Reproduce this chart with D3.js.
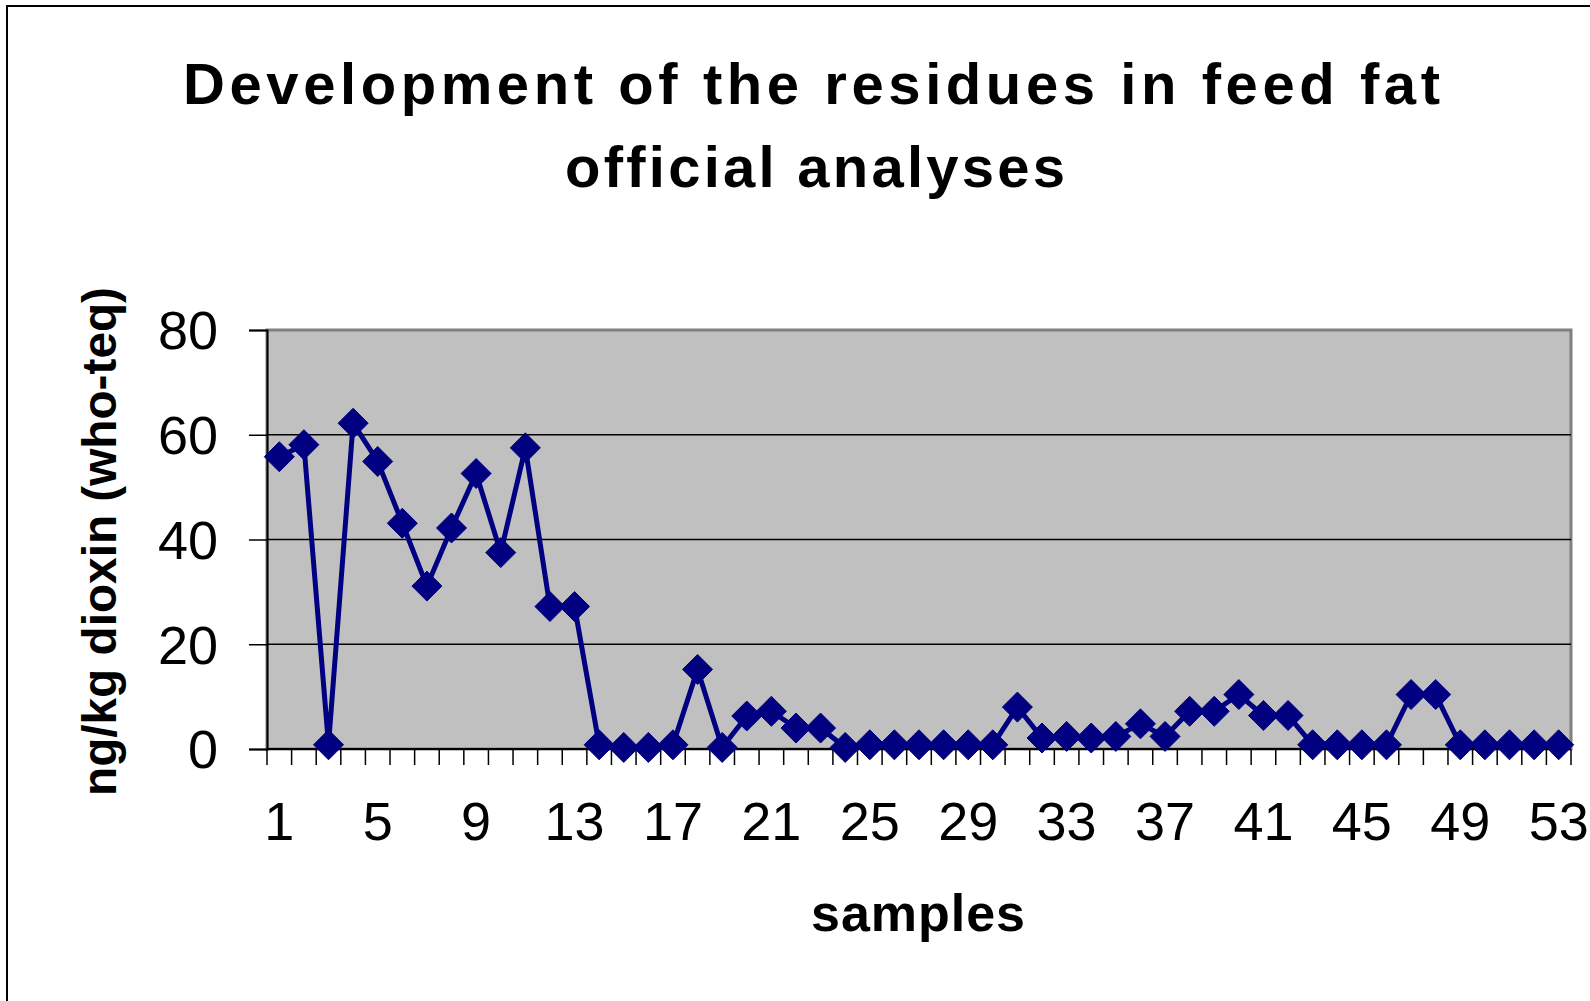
<!DOCTYPE html>
<html>
<head>
<meta charset="utf-8">
<script src="https://cdn.jsdelivr.net/npm/d3@7"></script>
<style>
    body {margin: 0; background: white;}
    svg {display: block;}
    text {font-family: "Liberation Sans", Arial, sans-serif; fill: black;}
</style>
</head>
<body>
<div id="chart"></div>
<script>
var samples = [1, 2, 3, 4, 5, 6, 7, 8, 9, 10, 11, 12, 13, 14, 15, 16, 17, 18,
    19, 20, 21, 22, 23, 24, 25, 26, 27, 28, 29, 30, 31, 32, 33, 34, 35, 36,
    37, 38, 39, 40, 41, 42, 43, 44, 45, 46, 47, 48, 49, 50, 51, 52, 53];
var dioxin = [55.8, 58.1, 0.8, 62.2, 54.9, 43.1, 31.1, 42.2, 52.6, 37.5, 57.5,
    27.2, 27.2, 0.8, 0.3, 0.3, 0.8, 15.2, 0.3, 6.3, 7.2, 4.0, 4.0, 0.3, 0.8,
    0.8, 0.8, 0.8, 0.8, 0.8, 8.0, 2.1, 2.4, 2.1, 2.4, 4.8, 2.4, 7.2, 7.2, 10.4,
    6.4, 6.4, 0.8, 0.8, 0.8, 0.8, 10.4, 10.4, 0.8, 0.8, 0.8, 0.8, 0.8];
var xTickLabels = [1, 5, 9, 13, 17, 21, 25, 29, 33, 37, 41, 45, 49, 53];
var yTicks = [0, 20, 40, 60, 80];
var titleLines = ['Development of the residues in feed fat', 'official analyses'];

var width = 1590, height = 1001;
var plot = {left: 267, right: 1571, top: 330, bottom: 749};

var svg = d3.select('#chart').append('svg')
    .attr('width', width)
    .attr('height', height);

// outer chart frame (right/bottom edges fall outside the picture)
svg.append('rect')
    .attr('x', 7).attr('y', 6)
    .attr('width', 1600).attr('height', 1100)
    .attr('fill', 'white')
    .attr('stroke', 'black')
    .attr('stroke-width', 2);

var x = d3.scaleBand()
    .domain(samples)
    .range([plot.left, plot.right])
    .padding(0);

var y = d3.scaleLinear()
    .domain([0, 80])
    .range([plot.bottom, plot.top]);

// plot area
svg.append('rect')
    .attr('x', plot.left).attr('y', plot.top)
    .attr('width', plot.right - plot.left)
    .attr('height', plot.bottom - plot.top)
    .attr('fill', '#c0c0c0')
    .attr('stroke', '#808080')
    .attr('stroke-width', 3);

// gridlines
svg.append('g').selectAll('line')
    .data(yTicks.filter(function(d){return d > 0 && d < 80}))
    .enter().append('line')
        .attr('x1', plot.left).attr('x2', plot.right)
        .attr('y1', function(d){return y(d)})
        .attr('y2', function(d){return y(d)})
        .attr('stroke', 'black')
        .attr('stroke-width', 1.5);

// y axis
var yAxis = svg.append('g')
    .attr('transform', 'translate(' + plot.left + ',0)')
    .call(d3.axisLeft(y).tickValues(yTicks).tickSize(18).tickPadding(31));
yAxis.select('.domain').attr('stroke', 'black').attr('stroke-width', 2);
yAxis.selectAll('.tick line').attr('stroke', 'black').attr('stroke-width', 1.5);
yAxis.selectAll('.tick text')
    .style('font-size', '54px')
    .style('font-family', '"Liberation Sans", Arial, sans-serif')
    .attr('fill', 'black')
    .attr('dy', '0.35em');

// x axis: ticks between categories, labels on every 4th sample
var boundaries = samples.map(function(d){return x(d)}).concat([plot.right]);
var xAxis = svg.append('g');
xAxis.append('line')
    .attr('x1', plot.left).attr('x2', plot.right)
    .attr('y1', plot.bottom).attr('y2', plot.bottom)
    .attr('stroke', 'black').attr('stroke-width', 2);
xAxis.selectAll('.tick').data(boundaries)
    .enter().append('line')
        .attr('class', 'tick')
        .attr('x1', function(d){return d}).attr('x2', function(d){return d})
        .attr('y1', plot.bottom).attr('y2', plot.bottom + 16)
        .attr('stroke', 'black').attr('stroke-width', 1.5);
xAxis.selectAll('text').data(xTickLabels)
    .enter().append('text')
        .attr('x', function(d){return x(d) + x.bandwidth() / 2})
        .attr('y', 840)
        .attr('text-anchor', 'middle')
        .style('font-size', '54px')
        .text(function(d){return d});

// series line + diamond markers
var line = d3.line()
    .x(function(d, i){return x(samples[i]) + x.bandwidth() / 2})
    .y(function(d){return y(d)});

svg.append('path')
    .datum(dioxin)
    .attr('d', line)
    .attr('fill', 'none')
    .attr('stroke', '#000080')
    .attr('stroke-width', 5)
    .attr('stroke-linejoin', 'round');

var diamond = 'M0,-15L15,0L0,15L-15,0Z';
svg.append('g').selectAll('path')
    .data(dioxin)
    .enter().append('path')
        .attr('d', diamond)
        .attr('transform', function(d, i){
            return 'translate(' + (x(samples[i]) + x.bandwidth() / 2) + ',' + y(d) + ')'})
        .attr('fill', '#000080')
        .attr('stroke', '#000080')
        .attr('stroke-width', 1)
        .attr('stroke-linejoin', 'round');

// titles
var title = svg.append('g');
title.append('text')
    .attr('x', 183).attr('y', 104)
    .attr('textLength', 1257).attr('lengthAdjust', 'spacing')
    .style('font-size', '58px').style('font-weight', 'bold')
    .text(titleLines[0]);
title.append('text')
    .attr('x', 565).attr('y', 187)
    .attr('textLength', 500).attr('lengthAdjust', 'spacing')
    .style('font-size', '58px').style('font-weight', 'bold')
    .text(titleLines[1]);

svg.append('text')
    .attr('x', 811).attr('y', 931)
    .attr('textLength', 214).attr('lengthAdjust', 'spacing')
    .style('font-size', '52px').style('font-weight', 'bold')
    .text('samples');

svg.append('text')
    .attr('transform', 'translate(116,796) rotate(-90)')
    .attr('textLength', 509).attr('lengthAdjust', 'spacingAndGlyphs')
    .style('font-size', '48px').style('font-weight', 'bold')
    .text('ng/kg dioxin (who-teq)');
</script>
</body>
</html>
